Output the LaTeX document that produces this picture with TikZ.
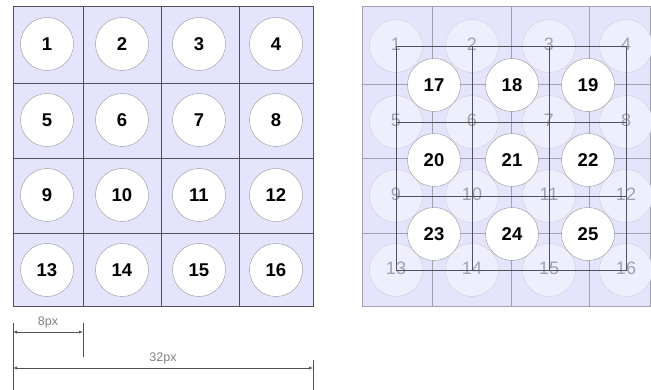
\documentclass[tikz,border=0pt]{standalone}
\usepackage{fontspec}
\setmainfont{Liberation Sans}
\usepackage{tikz}
\usetikzlibrary{arrows,positioning,calc}
\definecolor{cellLilac}{RGB}{228,228,252}
\definecolor{ghostLilac}{RGB}{238,238,252}
\definecolor{gridGray}{RGB}{80,80,90}
\definecolor{paleGray}{RGB}{160,160,175}

\begin{document}
\begin{tikzpicture}[
            x=1pt, y=-1pt,
            pixel/.style={circle, draw=gray!85, fill=white, minimum size=53pt, inner sep=0pt, font=\bfseries\fontsize{18.5}{18.5}\selectfont},
            ghost/.style={circle, draw=paleGray!50, fill=ghostLilac, minimum size=53pt, inner sep=0pt, text=paleGray, font=\fontsize{18}{18}\selectfont},
            dim/.style={latex-latex, gridGray},
            dimlabel/.style={text=gray, font=\fontsize{12.5}{12.5}\selectfont, inner sep=1pt}
        ]
            \useasboundingbox (0,0) rectangle (651,390);

            % left: 4x4 input grid
            \fill[cellLilac] (13,6) rectangle (313,306);
            \draw[gridGray] (13,6) rectangle (313,306);
            \foreach \x in {83,161,239} \draw[gridGray] (\x,6) -- (\x,306);
            \foreach \y in {83,158,233} \draw[gridGray] (13,\y) -- (313,\y);
            \foreach \r/\y in {0/44,1/120,2/195,3/270}
                \foreach \c/\x in {1/47,2/122,3/199,4/276} {
                    \pgfmathtruncatemacro\n{4*\r+\c}
                    \node[pixel] (p\n) at (\x,\y) {\n};
                }

            % right: shifted 3x3 grid over the faded input
            \fill[cellLilac] (362,6) rectangle (650,306);
            \draw[paleGray] (362,6) rectangle (650,306);
            \foreach \x in {432,511,589} \draw[paleGray] (\x,6) -- (\x,306);
            \foreach \y in {84,158,233} \draw[paleGray] (362,\y) -- (650,\y);
            \foreach \r/\y in {0/46,1/122,2/196,3/270}
                \foreach \c/\x in {1/396,2/472,3/549,4/626} {
                    \pgfmathtruncatemacro\n{4*\r+\c}
                    \node[ghost] (g\n) at (\x,\y) {\raisebox{4pt}{\n}};
                }
            \draw[gridGray, semithick] (g1.center) rectangle (g16.center);
            \draw[gridGray, semithick] (g2.center) -- (g14.center);
            \draw[gridGray, semithick] (g3.center) -- (g15.center);
            \draw[gridGray, semithick] (g5.center) -- (g8.center);
            \draw[gridGray, semithick] (g9.center) -- (g12.center);
            \foreach \r/\y in {0/85,1/160,2/234}
                \foreach \c/\x in {0/434,1/512,2/588} {
                    \pgfmathtruncatemacro\n{17+3*\r+\c}
                    \node[pixel] (p\n) at (\x,\y) {\n};
                }

            % dimensions
            \coordinate (w0top) at (13,323);
            \coordinate (w0bot) at (13,390);
            \coordinate (w8top) at (83,323);
            \coordinate (w8bot) at (83,357);
            \coordinate (w32top) at (313,360);
            \coordinate (w32bot) at (313,390);
            \coordinate (a8l) at (13,332);
            \coordinate (a8r) at (83,332);
            \coordinate (a32l) at (13,368);
            \coordinate (a32r) at (313,368);
            \draw[gridGray] (w0top) -- (w0bot);
            \draw[gridGray] (w8top) -- (w8bot);
            \draw[gridGray] (w32top) -- (w32bot);
            \draw[dim] (a8l) -- node[above=3pt, dimlabel] {8px} (a8r);
            \draw[dim] (a32l) -- node[above=3pt, dimlabel] {32px} (a32r);
        \end{tikzpicture}
\end{document}
